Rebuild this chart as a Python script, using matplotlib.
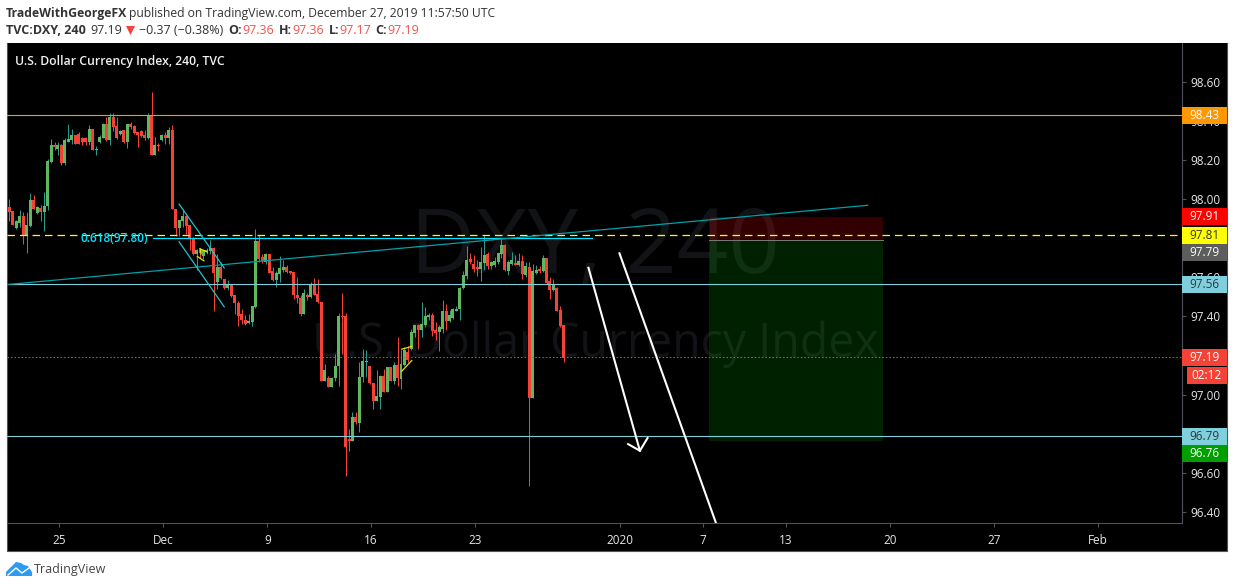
import matplotlib
matplotlib.use('Agg')
import matplotlib.pyplot as plt
from matplotlib.patches import Rectangle, Polygon

plt.rcParams['font.family'] = ['Open Sans', 'DejaVu Sans']

# 4h candles
opens = [98.02, 97.96, 97.94, 97.855, 97.878, 97.912, 97.81, 97.861, 97.998, 97.93,
         97.957, 97.935, 97.964, 98.191, 98.277, 98.256, 98.28, 98.186, 98.294, 98.302,
         98.328, 98.336, 98.311, 98.311, 98.294, 98.359, 98.251, 98.294, 98.314, 98.384,
         98.302, 98.422, 98.374, 98.333, 98.354, 98.294, 98.384, 98.374, 98.345, 98.35,
         98.328, 98.311, 98.43, 98.225, 98.28, 98.302, 98.328, 98.311, 98.354, 97.952,
         97.854, 97.888, 97.912, 97.866, 97.798, 97.721, 97.738, 97.707, 97.728, 97.735,
         97.75, 97.575, 97.652, 97.593, 97.546, 97.563, 97.507, 97.468, 97.413, 97.379,
         97.365, 97.37, 97.447, 97.784, 97.704, 97.678, 97.717, 97.63, 97.584, 97.615,
         97.64, 97.652, 97.632, 97.625, 97.512, 97.495, 97.41, 97.512, 97.499, 97.567,
         97.516, 97.476, 97.071, 97.083, 97.037, 97.083, 97.145, 97.4, 97.4, 96.772,
         96.76, 96.887, 96.852, 97.088, 97.169, 97.148, 97.059, 96.969, 96.986, 97.097,
         97.015, 97.143, 97.071, 97.153, 97.08, 97.153, 97.22, 97.234, 97.314, 97.358,
         97.328, 97.358, 97.396, 97.405, 97.328, 97.319, 97.336, 97.43, 97.374, 97.393,
         97.43, 97.437, 97.545, 97.606, 97.692, 97.666, 97.653, 97.641, 97.673, 97.718,
         97.658, 97.661, 97.678, 97.721, 97.764, 97.635, 97.67, 97.673, 97.661, 97.682,
         97.61, 97.651, 96.981, 97.622, 97.641, 97.63, 97.699, 97.579, 97.533, 97.545,
         97.435, 97.358]
highs = [98.03, 98.0, 97.94, 97.895, 97.943, 97.934, 97.934, 98.034, 98.02, 97.967,
         97.969, 98.037, 98.208, 98.306, 98.294, 98.294, 98.285, 98.311, 98.384, 98.362,
         98.328, 98.345, 98.319, 98.319, 98.379, 98.359, 98.271, 98.328, 98.388, 98.422,
         98.444, 98.444, 98.422, 98.354, 98.357, 98.384, 98.396, 98.379, 98.345, 98.354,
         98.354, 98.439, 98.547, 98.319, 98.289, 98.336, 98.345, 98.371, 98.379, 97.952,
         97.892, 97.943, 97.917, 97.866, 97.806, 97.746, 97.746, 97.746, 97.75, 97.79,
         97.755, 97.72, 97.678, 97.593, 97.584, 97.563, 97.507, 97.481, 97.439, 97.408,
         97.413, 97.451, 97.846, 97.815, 97.721, 97.724, 97.721, 97.652, 97.635, 97.707,
         97.687, 97.661, 97.635, 97.625, 97.6, 97.507, 97.541, 97.519, 97.576, 97.598,
         97.593, 97.476, 97.157, 97.097, 97.088, 97.208, 97.417, 97.521, 97.418, 96.823,
         96.909, 96.912, 97.169, 97.234, 97.228, 97.148, 97.059, 97.128, 97.102, 97.131,
         97.143, 97.143, 97.165, 97.297, 97.228, 97.242, 97.246, 97.336, 97.358, 97.362,
         97.476, 97.447, 97.417, 97.417, 97.37, 97.358, 97.485, 97.464, 97.434, 97.444,
         97.451, 97.553, 97.635, 97.759, 97.724, 97.712, 97.687, 97.755, 97.818, 97.73,
         97.683, 97.704, 97.726, 97.798, 97.772, 97.69, 97.73, 97.712, 97.726, 97.712,
         97.678, 97.678, 97.666, 97.661, 97.656, 97.712, 97.699, 97.601, 97.593, 97.55,
         97.451, 97.358]
lows = [97.95, 97.89, 97.87, 97.85, 97.858, 97.772, 97.724, 97.858, 97.952, 97.926,
        97.887, 97.837, 97.947, 98.188, 98.251, 98.225, 98.174, 98.174, 98.294, 98.285,
        98.282, 98.282, 98.277, 98.28, 98.277, 98.251, 98.225, 98.29, 98.311, 98.299,
        98.277, 98.348, 98.307, 98.328, 98.29, 98.263, 98.362, 98.336, 98.268, 98.319,
        98.302, 98.307, 98.225, 98.225, 98.246, 98.299, 98.285, 98.285, 97.952, 97.81,
        97.81, 97.858, 97.823, 97.738, 97.712, 97.639, 97.70, 97.695, 97.72, 97.72,
        97.43, 97.541, 97.593, 97.541, 97.533, 97.498, 97.413, 97.353, 97.362, 97.358,
        97.362, 97.353, 97.444, 97.678, 97.673, 97.67, 97.622, 97.581, 97.553, 97.574,
        97.627, 97.623, 97.618, 97.49, 97.468, 97.40, 97.41, 97.482, 97.495, 97.507,
        97.47, 97.068, 97.068, 97.037, 97.037, 97.071, 97.046, 97.208, 96.584, 96.712,
        96.76, 96.849, 96.806, 97.063, 97.088, 97.054, 96.926, 96.969, 96.926, 97.011,
        97.011, 97.068, 97.054, 97.046, 97.028, 97.148, 97.165, 97.228, 97.294, 97.234,
        97.297, 97.345, 97.379, 97.302, 97.28, 97.222, 97.314, 97.328, 97.37, 97.388,
        97.427, 97.379, 97.541, 97.589, 97.67, 97.627, 97.605, 97.581, 97.639, 97.644,
        97.641, 97.653, 97.67, 97.7, 97.635, 97.61, 97.661, 97.661, 97.658, 97.593,
        97.601, 96.533, 96.981, 97.618, 97.622, 97.627, 97.567, 97.49, 97.529, 97.427,
        97.348, 97.165]
closes = [97.96, 97.935, 97.87, 97.888, 97.912, 97.81, 97.866, 97.994, 97.952, 97.96,
          97.935, 97.967, 98.194, 98.277, 98.265, 98.28, 98.186, 98.302, 98.306, 98.328,
          98.282, 98.285, 98.294, 98.294, 98.359, 98.251, 98.259, 98.319, 98.384, 98.302,
          98.422, 98.371, 98.311, 98.35, 98.294, 98.384, 98.371, 98.34, 98.328, 98.323,
          98.311, 98.43, 98.225, 98.277, 98.273, 98.328, 98.311, 98.354, 97.952, 97.852,
          97.892, 97.912, 97.863, 97.803, 97.721, 97.738, 97.724, 97.738, 97.738, 97.75,
          97.622, 97.652, 97.598, 97.546, 97.563, 97.502, 97.468, 97.404, 97.379, 97.362,
          97.374, 97.451, 97.784, 97.695, 97.683, 97.717, 97.623, 97.584, 97.622, 97.647,
          97.652, 97.627, 97.622, 97.507, 97.493, 97.41, 97.521, 97.499, 97.567, 97.512,
          97.473, 97.071, 97.128, 97.037, 97.085, 97.148, 97.4, 97.396, 96.729, 96.76,
          96.887, 96.857, 97.092, 97.174, 97.174, 97.058, 96.969, 96.99, 97.097, 97.015,
          97.143, 97.071, 97.153, 97.083, 97.157, 97.228, 97.177, 97.319, 97.358, 97.328,
          97.362, 97.4, 97.405, 97.324, 97.317, 97.345, 97.43, 97.374, 97.405, 97.437,
          97.439, 97.547, 97.61, 97.69, 97.678, 97.644, 97.641, 97.678, 97.712, 97.658,
          97.678, 97.683, 97.724, 97.764, 97.639, 97.678, 97.687, 97.661, 97.682, 97.615,
          97.656, 96.981, 97.635, 97.639, 97.63, 97.699, 97.572, 97.533, 97.562, 97.43,
          97.352, 97.187]

# axis labels
price_ticks = [98.6, 98.4, 98.2, 98.0, 97.8, 97.6, 97.4, 97.2, 97.0, 96.8, 96.6, 96.4]
date_ticks = [15.4, 45.4, 75.4, 105.3, 135.4, 177.2, 201.2, 225.1, 255.1, 285.1, 315.2]
date_labels = ['25', 'Dec', '9', '16', '23', '2020', '7', '13', '20', '27', 'Feb']

# levels and drawings (bar index, price)
resistance = 98.43
support_high = 97.565
support_low = 96.79
last_price = 97.19
dashed_level = 97.817
fib_level = 97.80
fib_x = [42.35, 169.0]
trend_x = [0.29, 248.7]
trend_y = [97.563, 97.969]
channel_x = [49.96, 62.98]
channel_top = [97.975, 97.648]
channel_bottom = [97.782, 97.449]
arrow1_x = [168.1, 182.95]
arrow1_y = [97.649, 96.712]
head_x = [179.55, 182.95, 185.15]
head_y = [96.746, 96.712, 96.777]
arrow2_x = [177.05, 204.9]
arrow2_y = [97.723, 96.342]
yellow_marks = [([56.0, 58.1], [97.746, 97.729]),
                ([55.2, 57.1], [97.707, 97.685]),
                ([56.0, 56.3], [97.746, 97.72]),
                ([114.2, 117.1], [97.232, 97.246]),
                ([114.2, 117.1], [97.119, 97.174])]
position_x = [203.0, 253.05]
position_stop = 97.91
position_entry = 97.79
position_target = 96.76

# labels on the price scale: text, centre row, fill, text colour
scale_labels = [('98.43', 115.5, '#ff9800', '#ffffff'),
                ('97.91', 216.5, '#ff0000', '#ffffff'),
                ('97.81', 235.5, '#ffff00', '#333333'),
                ('97.79', 252.5, '#5d5d5d', '#ffffff'),
                ('97.56', 284.5, '#7fcfdc', '#2a3a44'),
                ('97.19', 357.5, '#f44336', '#ffffff'),
                ('96.79', 436.5, '#7fcfdc', '#2a3a44'),
                ('96.76', 453.5, '#009e00', '#ffffff')]

W, H = 1234, 587
GREEN = '#5fb760'
GREEN_WICK = '#2a9a8a'
RED = '#f44336'
FRAME = '#50535e'
LEVEL = '#7fcfdc'

fig = plt.figure(figsize=(W / 100, H / 100), dpi=100, facecolor='white')

# black panel behind everything
bg = fig.add_axes([0, 0, 1, 1], zorder=0)
bg.set_xlim(0, W)
bg.set_ylim(H, 0)
bg.axis('off')
bg.add_patch(Rectangle((6.5, 43), 1220.5, 507.5, facecolor='black', linewidth=0))
bg.plot([6.5, 6.5, 1227, 1227], [43, 550.5, 550.5, 43], color=FRAME, lw=0.8)

ax = fig.add_axes([7 / W, (H - 523) / H, 1175 / W, 480 / H], zorder=1)
ax.patch.set_alpha(0)
ax.set_xlim(0.29, 339.4)
ax.set_ylim(96.342, 98.8)
for name in ['top', 'left']:
    ax.spines[name].set_visible(False)
for name in ['right', 'bottom']:
    ax.spines[name].set_color(FRAME)
    ax.spines[name].set_linewidth(0.8)

ax.yaxis.tick_right()
ax.set_yticks(price_ticks)
ax.set_yticklabels(['%.2f' % p for p in price_ticks])
ax.set_xticks(date_ticks)
ax.set_xticklabels(date_labels)
ax.tick_params(axis='y', length=3, width=0.8, color=FRAME, labelcolor='#e6e6e6', labelsize=8.5, pad=3)
ax.tick_params(axis='x', length=3, width=0.8, color=FRAME, labelcolor='#e6e6e6', labelsize=8.5, pad=5)

# watermark
ax.text(595, 273, 'DXY, 240', transform=bg.transData, color='#111316', fontsize=65,
        ha='center', va='baseline', zorder=1)
ax.text(595, 357, 'U.S. Dollar Currency Index', transform=bg.transData, color='#111316',
        fontsize=33.5, ha='center', va='baseline', zorder=1)

# short position box
ax.add_patch(Rectangle((position_x[0], position_entry), position_x[1] - position_x[0],
                       position_stop - position_entry, facecolor='#ff0000', alpha=0.2,
                       linewidth=0, zorder=2))
ax.add_patch(Rectangle((position_x[0], position_target), position_x[1] - position_x[0],
                       position_entry - position_target, facecolor='#00aa00', alpha=0.2,
                       linewidth=0, zorder=2))
ax.plot(position_x, [position_entry, position_entry], color='#777777', lw=0.72, zorder=2)

# candles
for i in range(len(opens)):
    up = closes[i] >= opens[i]
    wick = ax.vlines(i, lows[i], highs[i], color=GREEN_WICK if up else RED, lw=0.72, zorder=3)
    wick.set_snap(True)
    ax.bar(i, abs(closes[i] - opens[i]), bottom=min(opens[i], closes[i]), width=0.865,
           color=GREEN if up else RED, linewidth=0, zorder=4)

# levels
ax.axhline(resistance, color='#ff9800', lw=0.8, zorder=5)
ax.axhline(support_high, color=LEVEL, lw=0.8, zorder=5)
ax.axhline(support_low, color=LEVEL, lw=0.8, zorder=5)
ax.axhline(last_price, color=RED, lw=0.75, ls=(0, (1.4, 2)), zorder=5)
ax.axhline(dashed_level, color='#ffff00', lw=0.9, ls=(0, (6, 4)), zorder=5)
ax.plot(fib_x, [fib_level, fib_level], color='#00e5ff', lw=0.9, zorder=5)
ax.plot(trend_x, trend_y, color='#00a0a8', lw=0.9, zorder=5)
ax.plot(channel_x, channel_top, color='#1cc5d0', lw=0.9, zorder=5)
ax.plot(channel_x, channel_bottom, color='#1cc5d0', lw=0.9, zorder=5)
for xs, ys in yellow_marks:
    ax.plot(xs, ys, color='#e6e600', lw=0.9, zorder=6)
ax.plot(arrow1_x, arrow1_y, color='white', lw=1.5, zorder=6)
ax.plot(head_x, head_y, color='white', lw=1.5, zorder=6)
ax.plot(arrow2_x, arrow2_y, color='white', lw=1.5, zorder=6)
ax.text(148, 238.5, '0.618(97.80)', transform=bg.transData, color='#00e5ff', fontsize=8.5,
        fontweight='semibold', ha='right', va='center', zorder=6)

# everything outside the plot, in pixel rows and columns
top = fig.add_axes([0, 0, 1, 1], zorder=2)
top.set_xlim(0, W)
top.set_ylim(H, 0)
top.axis('off')

for text, yc, fill, color in scale_labels:
    top.add_patch(Rectangle((1182, yc - 8.5), 45, 17, facecolor=fill, linewidth=0))
    top.text(1204.5, yc, text, color=color, fontsize=8.5, ha='center', va='center')
top.add_patch(Rectangle((1187, 367), 40, 17, facecolor=RED, linewidth=0))
top.text(1207, 375.5, '02:12', color='white', fontsize=8.5, ha='center', va='center')

top.text(15, 61, 'U.S. Dollar Currency Index, 240, TVC', color='#f0f0f0', fontsize=8.8,
         fontweight='semibold', ha='left', va='center')

head = '#333333'
top.text(6, 13, 'TradeWithGeorgeFX', color=head, fontsize=8.8, fontweight='bold', va='center')
top.text(129, 13, 'published on TradingView.com, December 27, 2019 11:57:50 UTC', color=head,
         fontsize=8.75, va='center')
top.text(6, 30, 'TVC:DXY, 240', color=head, fontsize=9, fontweight='bold', va='center')
top.text(90, 30, '97.19', color=head, fontsize=9, va='center')
top.add_patch(Polygon([(126, 26), (135, 26), (130.5, 35)], facecolor=RED, linewidth=0))
top.text(139, 30, '\u22120.37 (\u22120.38%)', color=head, fontsize=9, va='center')
for x, label in [(228, 'O:'), (279, 'H:'), (329, 'L:'), (375, 'C:')]:
    top.text(x, 30, label, color=head, fontsize=9, fontweight='bold', va='center')
for x, label in [(242, '97.36'), (292, '97.36'), (339, '97.17'), (387, '97.19')]:
    top.text(x, 30, label, color='#f4514a', fontsize=9, va='center')

# logo
top.add_patch(Polygon([(6, 576), (6, 572), (12, 566), (16, 562), (21, 563), (24, 565), (28, 566),
                       (32, 572), (32, 576)], facecolor='#2f9bf0', linewidth=0))
top.plot([8, 16, 22, 29], [575, 568, 573, 568], color='white', lw=1)
top.text(34, 569, 'TradingView', color='#444444', fontsize=9, va='center')

fig.savefig('out.png', dpi=100, facecolor='white')
